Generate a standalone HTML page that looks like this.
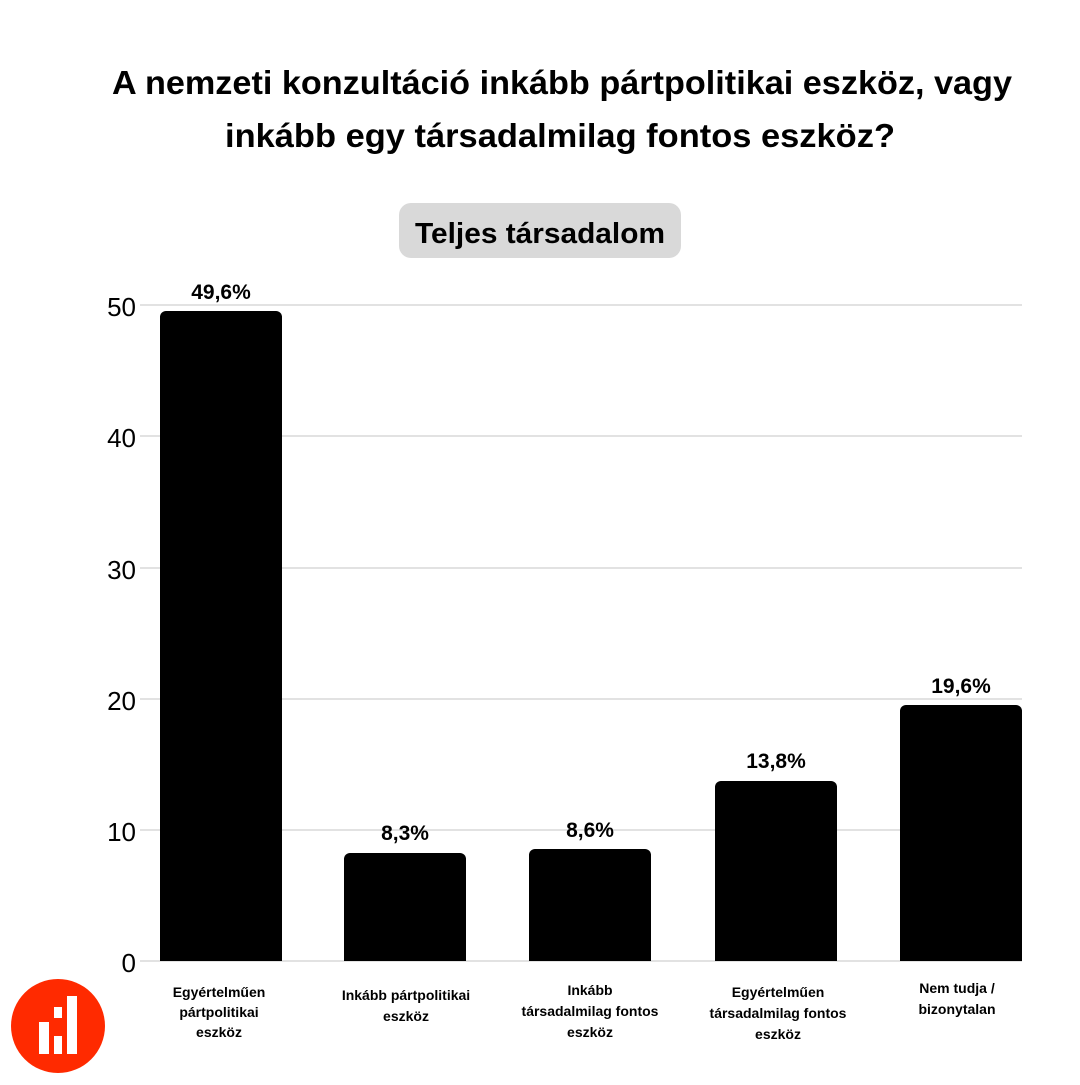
<!DOCTYPE html>
<html><head><meta charset="utf-8"><style>
html,body{margin:0;padding:0;background:#fff;}
svg text{font-family:"Liberation Sans",sans-serif;}
</style></head><body>
<svg width="1080" height="1080" viewBox="0 0 1080 1080" xmlns="http://www.w3.org/2000/svg">
<rect width="1080" height="1080" fill="#fff"/>
<g font-weight="bold" font-size="33" text-anchor="middle" fill="#000">
<text x="562" y="94" textLength="900" lengthAdjust="spacingAndGlyphs">A nemzeti konzultáció inkább pártpolitikai eszköz, vagy</text>
<text x="560" y="147" textLength="670" lengthAdjust="spacingAndGlyphs">inkább egy társadalmilag fontos eszköz?</text>
</g>
<rect x="399" y="203" width="282" height="55" rx="12" fill="#d9d9d9"/>
<text x="540" y="243" font-size="29" font-weight="bold" text-anchor="middle" textLength="250" lengthAdjust="spacingAndGlyphs">Teljes társadalom</text>
<g stroke="#d9d9d9" stroke-width="1.5">
<line x1="140" y1="305" x2="1022" y2="305"/>
<line x1="140" y1="436" x2="1022" y2="436"/>
<line x1="140" y1="568" x2="1022" y2="568"/>
<line x1="140" y1="699" x2="1022" y2="699"/>
<line x1="140" y1="830" x2="1022" y2="830"/>
<line x1="140" y1="961" x2="1022" y2="961"/>
</g>
<g font-size="26" fill="#000" text-anchor="end">
<text x="136" y="316">50</text>
<text x="136" y="447">40</text>
<text x="136" y="579">30</text>
<text x="136" y="710">20</text>
<text x="136" y="841">10</text>
<text x="136" y="972">0</text>
</g>
<g fill="#000">
<path d="M160 961V317a6 6 0 0 1 6-6h110a6 6 0 0 1 6 6V961z"/>
<path d="M344 961V859a6 6 0 0 1 6-6h110a6 6 0 0 1 6 6V961z"/>
<path d="M529 961V855a6 6 0 0 1 6-6h110a6 6 0 0 1 6 6V961z"/>
<path d="M715 961V787a6 6 0 0 1 6-6h110a6 6 0 0 1 6 6V961z"/>
<path d="M900 961V711a6 6 0 0 1 6-6h110a6 6 0 0 1 6 6V961z"/>
</g>
<g font-size="21" font-weight="bold" text-anchor="middle" fill="#000">
<text x="221" y="299">49,6%</text>
<text x="405" y="840">8,3%</text>
<text x="590" y="837">8,6%</text>
<text x="776" y="768">13,8%</text>
<text x="961" y="693">19,6%</text>
</g>
<g font-size="14" font-weight="bold" text-anchor="middle" fill="#000">
<text x="219" y="997">Egyértelműen</text>
<text x="219" y="1017">pártpolitikai</text>
<text x="219" y="1037">eszköz</text>
<text x="406" y="1000">Inkább pártpolitikai</text>
<text x="406" y="1021">eszköz</text>
<text x="590" y="995">Inkább</text>
<text x="590" y="1016">társadalmilag fontos</text>
<text x="590" y="1037">eszköz</text>
<text x="778" y="997">Egyértelműen</text>
<text x="778" y="1018">társadalmilag fontos</text>
<text x="778" y="1039">eszköz</text>
<text x="957" y="993">Nem tudja /</text>
<text x="957" y="1014">bizonytalan</text>
</g>
<circle cx="58" cy="1026" r="47" fill="#ff2a00"/>
<g fill="#fff">
<rect x="39" y="1022" width="10" height="32"/>
<rect x="54" y="1007" width="8" height="11"/>
<rect x="54" y="1036" width="8" height="18"/>
<rect x="67" y="996" width="10" height="58"/>
</g>
</svg>
</body></html>
